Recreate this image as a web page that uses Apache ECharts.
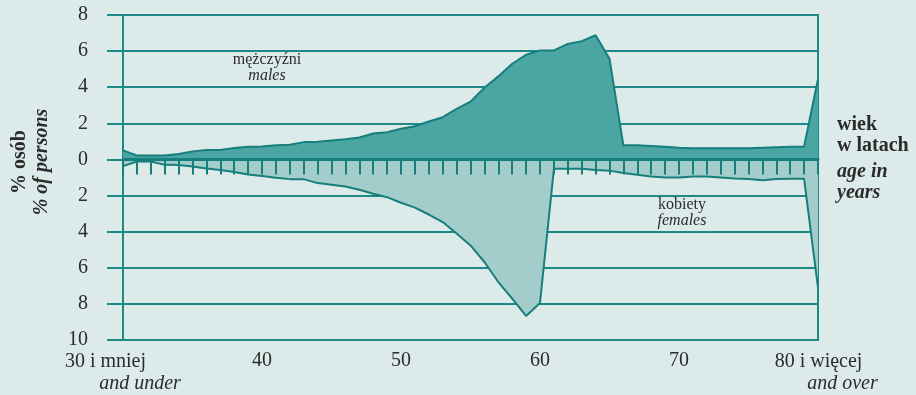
<!DOCTYPE html>
<html>
<head>
<meta charset="utf-8">
<script src="https://cdn.jsdelivr.net/npm/echarts@6/dist/echarts.min.js"></script>
<style>
  html, body { margin: 0; padding: 0; background: #dcebea; }
  #chart { width: 916px; height: 395px; }
</style>
</head>
<body>
<div id="chart"></div>
<script>
var ages = ['30', '31', '32', '33', '34', '35', '36', '37', '38', '39',
    '40', '41', '42', '43', '44', '45', '46', '47', '48', '49',
    '50', '51', '52', '53', '54', '55', '56', '57', '58', '59',
    '60', '61', '62', '63', '64', '65', '66', '67', '68', '69',
    '70', '71', '72', '73', '74', '75', '76', '77', '78', '79', '80'];

var males = [0.5, 0.22, 0.22, 0.22, 0.3, 0.44, 0.53, 0.53, 0.63, 0.7,
    0.72, 0.78, 0.81, 0.96, 0.98, 1.05, 1.12, 1.22, 1.44, 1.51,
    1.7, 1.84, 2.1, 2.34, 2.8, 3.2, 3.97, 4.6, 5.3, 5.8,
    6.04, 6.04, 6.4, 6.55, 6.88, 5.57, 0.78, 0.78, 0.75, 0.7,
    0.65, 0.62, 0.62, 0.62, 0.62, 0.62, 0.65, 0.68, 0.7, 0.72, 4.45];

var females = [-0.37, -0.11, -0.11, -0.3, -0.31, -0.39, -0.5, -0.59, -0.7, -0.83,
    -0.92, -1.01, -1.09, -1.09, -1.31, -1.4, -1.5, -1.68, -1.9, -2.09,
    -2.4, -2.67, -3.05, -3.47, -4.1, -4.76, -5.68, -6.79, -7.71, -8.67,
    -7.95, -0.52, -0.52, -0.52, -0.58, -0.62, -0.75, -0.85, -0.95, -1.0,
    -1.0, -0.95, -0.95, -1.0, -1.05, -1.08, -1.15, -1.08, -1.07, -1.07, -7.1];

var yMin = -10, yMax = 8, yStep = 2;

var teal = '#167f7c';
var gridTeal = '#1f8985';
var textColor = '#2b2b2b';
var serif = 'Liberation Serif';

var dom = document.getElementById('chart');
var myChart = echarts.init(dom, null, { renderer: 'canvas' });

var option = {
    backgroundColor: '#dcebea',
    animation: false,
    textStyle: { fontFamily: serif, color: textColor },
    grid: {
        left: 123, right: 98, top: 15, bottom: 55,
        show: true,
        backgroundColor: 'transparent',
        borderColor: gridTeal,
        borderWidth: 2
    },
    xAxis: [
        {
            type: 'category',
            data: ages,
            boundaryGap: false,
            axisLine: { show: false, onZero: false },
            axisTick: { show: false },
            splitLine: { show: false },
            axisLabel: {
                interval: function (i) { return i % 10 === 0; },
                margin: 11,
                fontFamily: serif,
                fontSize: 20,
                color: textColor,
                formatter: function (v, i) {
                    if (i === 0) return '{a|30 i mniej}\n{b|and under}';
                    if (i === ages.length - 1) return '{c|80 i więcej}\n{d|and over}';
                    return v;
                },
                rich: {
                    a: { fontSize: 20, lineHeight: 22, fontFamily: serif, color: textColor, padding: [0, 35, 0, 0] },
                    b: { fontSize: 20, lineHeight: 22, fontFamily: serif, color: textColor, fontStyle: 'italic', padding: [0, 0, 0, 34] },
                    c: { fontSize: 20, lineHeight: 22, fontFamily: serif, color: textColor, padding: [0, 13, 0, 14] },
                    d: { fontSize: 20, lineHeight: 22, fontFamily: serif, color: textColor, fontStyle: 'italic', padding: [0, 0, 0, 49] }
                }
            }
        },
        {
            // zero line with the little ticks hanging below it
            type: 'category',
            data: ages,
            boundaryGap: false,
            position: 'top',
            z: 5,
            axisLine: { show: true, onZero: true, lineStyle: { color: teal, width: 3 } },
            axisTick: { show: true, inside: true, length: 15, interval: 0, lineStyle: { color: teal, width: 2 } },
            axisLabel: { show: false },
            splitLine: { show: false }
        }
    ],
    yAxis: {
        type: 'value',
        min: yMin,
        max: yMax,
        interval: yStep,
        axisLine: { show: true, lineStyle: { color: gridTeal, width: 2 } },
        axisTick: { show: true, length: 16, lineStyle: { color: gridTeal, width: 2 } },
        splitLine: { show: true, lineStyle: { color: gridTeal, width: 2 } },
        axisLabel: {
            margin: 35,
            fontFamily: serif,
            fontSize: 20,
            color: textColor,
            formatter: function (v) { return String(Math.abs(v)); }
        }
    },
    series: [
        {
            name: 'kobiety',
            type: 'line',
            data: females,
            showSymbol: false,
            z: 2,
            lineStyle: { color: teal, width: 2 },
            itemStyle: { color: teal },
            areaStyle: { color: '#a2cdcb', opacity: 1 }
        },
        {
            name: 'mężczyźni',
            type: 'line',
            data: males,
            showSymbol: false,
            z: 2,
            lineStyle: { color: teal, width: 2 },
            itemStyle: { color: teal },
            areaStyle: { color: '#4aa5a3', opacity: 1 }
        }
    ],
    graphic: [
        {
            type: 'text',
            x: 31, y: 162,
            rotation: Math.PI / 2,
            style: {
                text: '{a|% osób}\n{b|% of persons}',
                align: 'center',
                verticalAlign: 'middle',
                rich: {
                    a: { fontFamily: serif, fontSize: 20, fontWeight: 'bold', lineHeight: 22, fill: textColor },
                    b: { fontFamily: serif, fontSize: 20, fontWeight: 'bold', fontStyle: 'italic', lineHeight: 22, fill: textColor }
                }
            }
        },
        {
            type: 'text',
            x: 837, y: 114,
            style: {
                text: 'wiek\nw latach',
                font: 'bold 20px "Liberation Serif"',
                lineHeight: 21,
                fill: textColor,
                align: 'left',
                verticalAlign: 'top'
            }
        },
        {
            type: 'text',
            x: 837, y: 161,
            style: {
                text: 'age in\nyears',
                font: 'italic bold 20px "Liberation Serif"',
                lineHeight: 21,
                fill: textColor,
                align: 'left',
                verticalAlign: 'top'
            }
        },
        {
            type: 'text',
            x: 267, y: 52,
            style: {
                text: '{a|mężczyźni}\n{b|males}',
                align: 'center',
                verticalAlign: 'top',
                rich: {
                    a: { fontFamily: serif, fontSize: 16, lineHeight: 16, fill: textColor },
                    b: { fontFamily: serif, fontSize: 16, lineHeight: 16, fontStyle: 'italic', fill: textColor }
                }
            }
        },
        {
            type: 'text',
            x: 682, y: 197,
            style: {
                text: '{a|kobiety}\n{b|females}',
                align: 'center',
                verticalAlign: 'top',
                rich: {
                    a: { fontFamily: serif, fontSize: 16, lineHeight: 16, fill: textColor },
                    b: { fontFamily: serif, fontSize: 16, lineHeight: 16, fontStyle: 'italic', fill: textColor }
                }
            }
        }
    ]
};

myChart.setOption(option);
window.addEventListener('resize', myChart.resize);
</script>
</body>
</html>
